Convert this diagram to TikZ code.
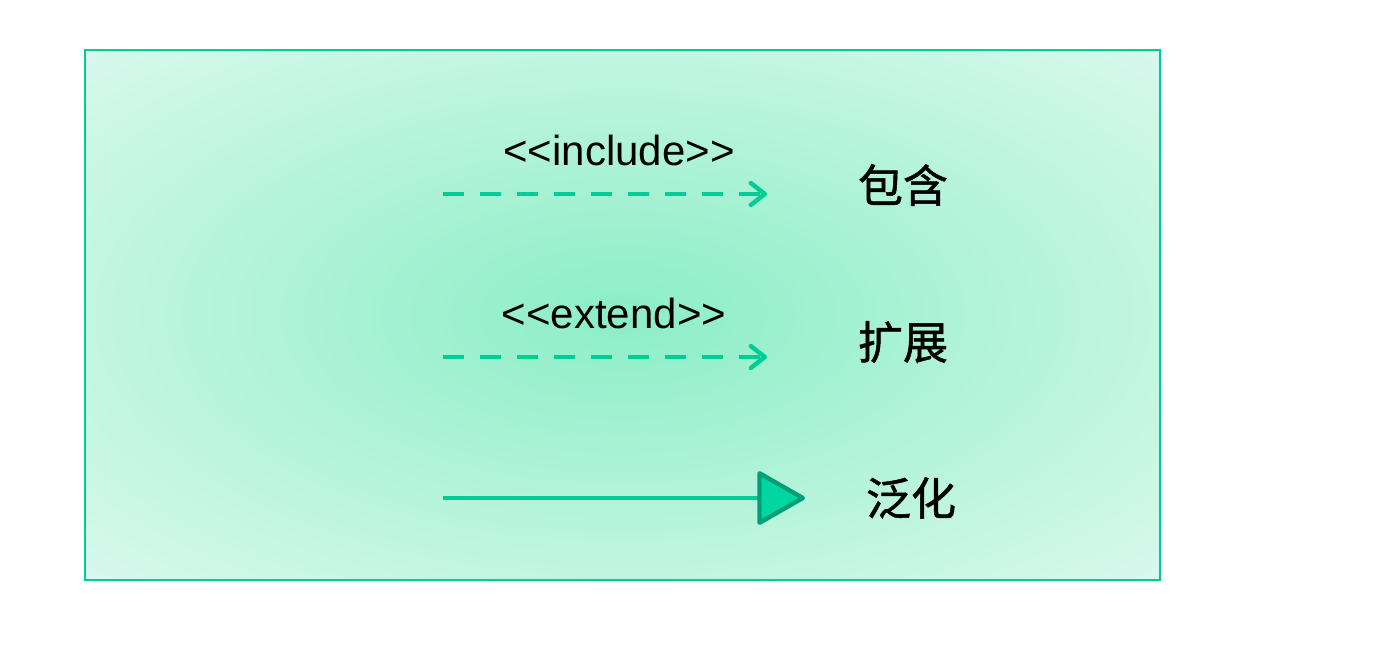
\documentclass[tikz,border=0pt]{standalone}
\usepackage{fontspec}
\setmainfont{Liberation Sans}
\newfontfamily\cjk[FakeBold=1.2]{Noto Sans CJK SC}
\usepackage{tikz}
\usetikzlibrary{arrows.meta}

\definecolor{umlgreen}{RGB}{0,204,150}
\definecolor{umldark}{RGB}{0,160,118}
\definecolor{umlfill}{RGB}{0,214,162}
\definecolor{bgcentre}{RGB}{140,238,198}
\definecolor{bgedge}{RGB}{218,249,238}
\def\myframe{umlgreen}
\pgfdeclareradialshading{bgglow}{\pgfpoint{0bp}{0bp}}{color(0bp)=(bgcentre); color(36bp)=(bgedge); color(100bp)=(bgedge)}

\tikzset{
  stereo/.style={inner sep=0pt, font=\fontsize{21}{25}\selectfont},
  cnname/.style={inner sep=0pt, font=\cjk\fontsize{22.5}{27}\selectfont},
  dep/.style={line width=2.2pt, umlgreen, dash pattern=on 10.5pt off 8pt,
    -{Straight Barb[length=7pt,width=11pt,round]}},
  gen/.style={line width=2.2pt, umlgreen,
    -{Triangle[length=25pt,width=28pt,fill=umlfill,color=umldark,line width=2.2pt,round]}}
}

\begin{document}
\begin{tikzpicture}[x=0.5pt,y=0.5pt]
\useasboundingbox (0,0) rectangle (1377,-666);
\shade [shading=bgglow] (85,-50) rectangle (1160,-580);
\draw [line width=1pt, \myframe] (85,-50) rectangle (1160,-580);

% include
\coordinate (inc-from) at (443,-194);
\coordinate (inc-to) at (767,-194);
\draw [dep] (inc-from) -- (inc-to);
\node [stereo] (inc-label) at (619,-150) {{<}{<}include{>}{>}};
\node [cnname] (inc-name) at (903,-185) {包含};

% extend
\coordinate (ext-from) at (443,-357);
\coordinate (ext-to) at (767,-357);
\draw [dep] (ext-from) -- (ext-to);
\node [stereo] (ext-label) at (614,-313) {{<}{<}extend{>}{>}};
\node [cnname] (ext-name) at (903,-342) {扩展};

% generalization
\coordinate (gen-from) at (443,-498);
\coordinate (gen-to) at (805,-498);
\draw [gen] (gen-from) -- (gen-to);
\node [cnname] (gen-name) at (911,-498) {泛化};
\end{tikzpicture}
\end{document}
